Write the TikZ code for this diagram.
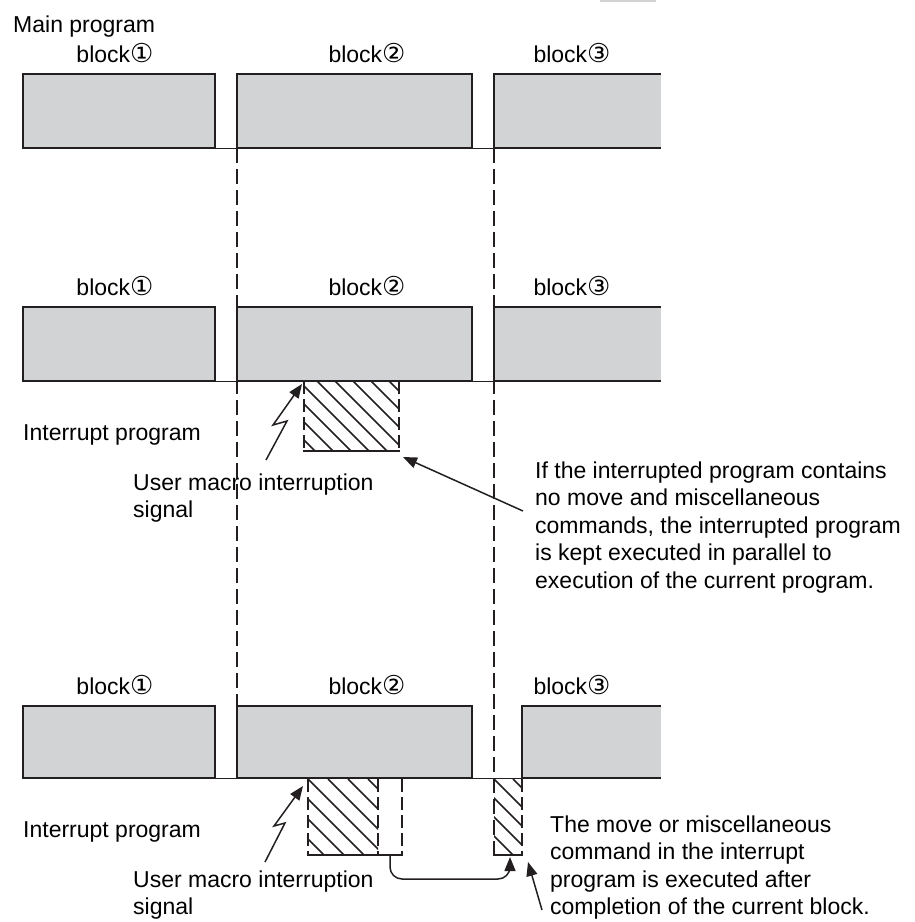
\documentclass[tikz,border=0pt]{standalone}
\usepackage{fontspec}
\setmainfont{Liberation Sans}
\newfontfamily\circfont{DejaVu Sans}
\usetikzlibrary{arrows.meta}
\definecolor{ink}{HTML}{231F20}
\definecolor{blockgray}{HTML}{D1D3D4}
\newcommand{\cnum}[1]{{\circfont\fontsize{26}{27.5}\selectfont #1}}
\begin{document}
\begin{tikzpicture}[x=1pt,y=-1pt,
  font=\fontsize{23}{27.5}\selectfont,
  blk/.style={fill=blockgray, draw=ink, line width=2pt},
  openblk/.style={draw=ink, line width=2pt},
  baseln/.style={draw=ink, line width=1pt},
  guide/.style={draw=ink, line width=2pt, dash pattern=on 15pt off 6pt},
  hedge/.style={draw=ink, line width=1.8pt, dash pattern=on 13pt off 5pt},
  sedge/.style={draw=ink, line width=2pt},
  hatch/.style={draw=ink, line width=1.5pt},
  lbl/.style={anchor=base, inner sep=0pt},
  txt/.style={anchor=base west, inner sep=0pt, align=left},
  arr/.style={draw=ink, line width=1.5pt, -{Triangle[length=14pt,width=11pt]}}]
\useasboundingbox (0,0) rectangle (914,922);
\fill[blockgray] (600,0) rectangle (656,2);

% ---------- top section ----------
\node[txt] (mainlbl) at (13,32) {Main program};
\node[lbl] (t1) at (115,62) {block\cnum{①}};
\node[lbl] (t2) at (367,62) {block\cnum{②}};
\node[lbl] (t3) at (572,62) {block\cnum{③}};
\path[blk] (23,74) rectangle (215,148);
\path[blk] (237,74) rectangle (472,148);
\fill[blockgray] (494,74) rectangle (661,148);
\draw[openblk] (661,74) -- (494,74) -- (494,148) -- (661,148);
\draw[baseln] (23,148) -- (661,148);

% dashed guides
\draw[guide] (237,148) -- (237,706);
\draw[guide] (494,148) -- (494,855);

% ---------- middle section ----------
\node[lbl] (m1) at (115,295) {block\cnum{①}};
\node[lbl] (m2) at (367,295) {block\cnum{②}};
\node[lbl] (m3) at (572,295) {block\cnum{③}};
\path[blk] (23,307) rectangle (215,381);
\path[blk] (237,307) rectangle (472,381);
\fill[blockgray] (494,307) rectangle (661,381);
\draw[openblk] (661,307) -- (494,307) -- (494,381) -- (661,381);
\draw[baseln] (23,381) -- (661,381);

\begin{scope}
  \clip (304,381) rectangle (399,451);
  \foreach \x in {227,245,...,399} \draw[hatch] (\x,381) -- ++(90,90);
\end{scope}
\draw[hedge] (304,381) -- (304,451);
\draw[hedge] (399,381) -- (399,451);
\draw[sedge] (303,451) -- (400,451);

\node[txt] (int1) at (23,440) {Interrupt program};
\node[txt] (sig1) at (133,517.5) {User macro interruption\\signal};
\node[txt] (note1) at (535,588) {If the interrupted program contains\\no move and miscellaneous\\commands, the interrupted program\\is kept executed in parallel to\\execution of the current program.};

\coordinate (z1s) at (266,460);
\coordinate (z1t) at (302,384);
\draw[arr] (z1s) -- (287,421) -- (273,425) -- (z1t);
\coordinate (n1s) at (523,511);
\coordinate (n1t) at (403,457);
\draw[arr] (n1s) -- (n1t);

% ---------- bottom section ----------
\node[lbl] (b1) at (115,694) {block\cnum{①}};
\node[lbl] (b2) at (367,694) {block\cnum{②}};
\node[lbl] (b3) at (572,694) {block\cnum{③}};
\path[blk] (23,706) rectangle (215,778);
\path[blk] (237,706) rectangle (472,778);
\fill[blockgray] (522,706) rectangle (661,778);
\draw[openblk] (661,706) -- (522,706) -- (522,778) -- (661,778);
\draw[baseln] (23,778) -- (661,778);

\begin{scope}
  \clip (308,779) rectangle (378,855);
  \foreach \x in {208,228,...,378} \draw[hatch] (\x,779) -- ++(90,90);
\end{scope}
\begin{scope}
  \clip (494,779) rectangle (522,855);
  \foreach \x in {399,418,...,513} \draw[hatch] (\x,779) -- ++(90,90);
\end{scope}
\draw[hedge] (308,779) -- (308,855);
\draw[hedge] (378,779) -- (378,855);
\draw[hedge] (402,779) -- (402,855);
\draw[sedge] (307,855) -- (403,855);
\draw[hedge] (522,779) -- (522,855);
\draw[sedge] (493,855) -- (523,855);

\node[txt] (int2) at (23,837) {Interrupt program};
\node[txt] (sig2) at (133,914.5) {User macro interruption\\signal};
\node[txt] (note2) at (550,914.5) {The move or miscellaneous\\command in the interrupt\\program is executed after\\completion of the current block.};

\coordinate (z2s) at (265,862);
\coordinate (z2t) at (303,786);
\draw[arr] (z2s) -- (285,823) -- (274,826) -- (z2t);
\coordinate (c2s) at (390,855);
\coordinate (c2t) at (510,857);
\draw[arr, rounded corners=12pt] (c2s) -- (390,879) -- (510,879) -- (c2t);
\coordinate (n2s) at (542,910);
\coordinate (n2t) at (528,862);
\draw[arr] (n2s) -- (n2t);
\end{tikzpicture}
\end{document}
